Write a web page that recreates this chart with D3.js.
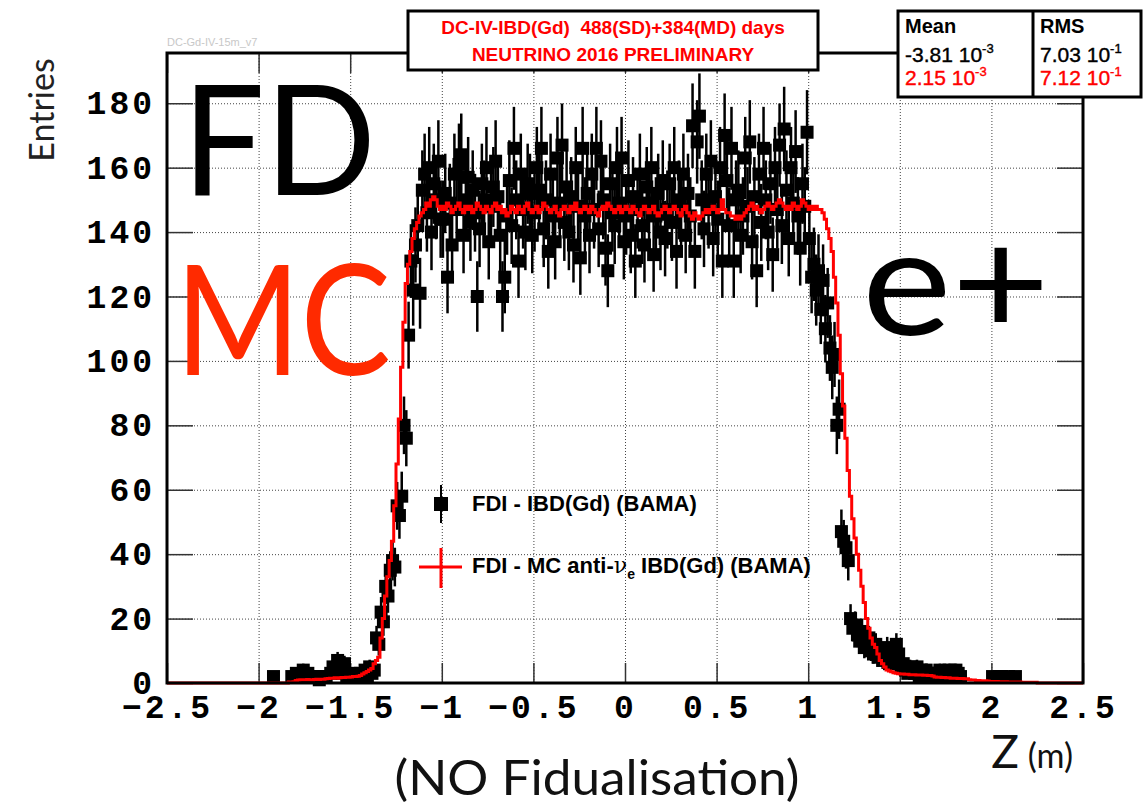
<!DOCTYPE html>
<html lang="en">

<head>
  <script src="https://d3js.org/d3.v7.min.js"></script>
  <meta charset="UTF-8">
  <title>FDI IBD(Gd) Z</title>
  <style>
    body {
      margin: 0;
      background: #fff;
    }

    .axis .domain {
      display: none;
    }

    .axis line {
      stroke: #333;
      stroke-width: 1.5;
    }

    .axis text {
      font-family: "Liberation Mono", "DejaVu Sans Mono", monospace;
      font-weight: bold;
      font-size: 33px;
      letter-spacing: 3px;
      fill: #000;
    }

    .gridlines .domain {
      display: none;
    }

    .gridlines line {
      stroke: #444;
      stroke-width: 1;
      stroke-dasharray: 1, 2;
    }
  </style>
</head>

<body>
  <svg id="plot" width="1146" height="810"></svg>
  <script>
    // histogram binning (Z in metres)
    const zMin = -2.5;
    const zMax = 2.5;
    const nBins = 400;

    // data: FDI - IBD(Gd) (BAMA), entries per bin (20 bins per row)
    const dataCounts = [
      0, 0, 0, 0, 0, 0, 0, 0, 0, 0, 0, 0, 0, 0, 0, 0, 0, 0, 0, 0,
      0, 0, 0, 0, 0, 0, 0, 0, 0, 0, 0, 0, 0, 0, 0, 0, 0, 0, 0, 0,
      0, 0, 0, 0, 0, 0, 2, 0, 0, 0, 0, 0, 0, 0, 2, 0, 3, 2, 0, 4,
      2, 3, 0, 2, 0, 2, 1, 2, 0, 2, 0, 3, 5, 4, 7, 5, 3, 6, 2, 0,
      3, 2, 0, 2, 3, 0, 4, 2, 5, 3, 4, 14, 12, 22, 19, 30, 27, 35, 38, 36,
      55, 52, 58, 80, 76, 108, 131, 122, 136, 142, 121, 153, 158, 146, 160, 140, 155, 150, 162, 144,
      144, 152, 126, 149, 136, 158, 147, 161, 164, 139, 150, 157, 143, 153, 146, 120, 141, 155, 150, 160,
      137, 148, 154, 162, 151, 139, 120, 126, 145, 156, 142, 166, 150, 131, 158, 147, 140, 155, 152, 139,
      146, 160, 153, 166, 141, 150, 134, 158, 145, 137, 163, 149, 167, 143, 154, 140, 151, 136, 160, 148,
      132, 166, 145, 152, 139, 158, 147, 166, 141, 162, 150, 135, 128, 155, 146, 142, 160, 149, 163, 137,
      145, 156, 139, 151, 131, 147, 158, 142, 136, 154, 149, 160, 133, 145, 152, 140, 156, 138, 147, 155,
      143, 160, 134, 150, 147, 158, 139, 152, 145, 173, 134, 168, 176, 150, 141, 158, 147, 162, 138, 151,
      144, 160, 131, 170, 156, 142, 166, 131, 150, 153, 139, 145, 163, 148, 168, 137, 151, 128, 158, 143,
      166, 150, 140, 155, 133, 160, 147, 167, 142, 172, 153, 138, 160, 149, 165, 145, 135, 155, 148, 171,
      138, 126, 130, 122, 128, 116, 125, 110, 118, 104, 98, 102, 80, 85, 47, 44, 42, 38, 20, 17,
      18, 15, 13, 16, 11, 12, 14, 10, 9, 12, 8, 10, 7, 9, 11, 6, 10, 8, 12, 9,
      5, 6, 4, 3, 5, 4, 3, 5, 2, 4, 3, 4, 2, 3, 3, 2, 3, 4, 3, 2,
      3, 4, 2, 3, 4, 3, 2, 0, 0, 0, 0, 0, 0, 0, 0, 0, 0, 0, 0, 0,
      2, 0, 0, 2, 2, 0, 0, 2, 0, 0, 2, 0, 0, 0, 0, 0, 0, 0, 0, 0,
      0, 0, 0, 0, 0, 0, 0, 0, 0, 0, 0, 0, 0, 0, 0, 0, 0, 0, 0, 0
    ];

    // MC anti-nu_e IBD(Gd) (BAMA), normalised (20 bins per row)
    const mcCounts = [
      0, 0, 0, 0, 0, 0, 0, 0, 0, 0, 0, 0, 0, 0, 0, 0, 0, 0, 0, 0,
      0, 0, 0, 0, 0, 0, 0, 0, 0, 0, 0, 0, 0, 0, 0, 0, 0, 0, 0, 0,
      0, 0, 0, 0, 0, 0, 0, 0, 0, 0, 0, 0, 0, 0.3, 0.3, 0.4, 0.8, 0.9, 1, 1,
      1, 1.1, 1, 1, 1.1, 1.2, 1.1, 1.2, 1.2, 1.3, 1.4, 1.5, 1.5, 1.6, 1.5, 1.6, 1.7, 1.7, 1.8, 1.8,
      1.9, 2, 2, 2.1, 2.3, 2.8, 3.2, 3.6, 4, 4.5, 6, 7, 8, 14, 20, 27, 33, 38, 44, 55,
      68, 82, 98, 112, 124, 130, 134, 138, 141, 143, 145, 146, 147, 149, 148, 150, 151, 150, 148, 147,
      148, 147, 149, 148, 146, 147, 148, 149, 147, 146, 148, 147, 148, 146, 147, 149, 148, 147, 146, 148,
      147, 146, 148, 149, 147, 148, 146, 147, 145, 146, 148, 147, 146, 148, 147, 146, 148, 149, 147, 146,
      147, 148, 146, 147, 149, 148, 147, 146, 147, 148, 146, 145, 147, 148, 147, 146, 148, 147, 149, 147,
      146, 147, 148, 147, 146, 148, 147, 146, 145, 147, 148, 147, 149, 148, 147, 146, 147, 148, 146, 147,
      148, 147, 146, 148, 147, 146, 145, 147, 148, 147, 146, 147, 148, 146, 145, 146, 147, 148, 147, 146,
      147, 148, 147, 146, 145, 147, 148, 146, 145, 144, 146, 145, 144, 145, 146, 147, 146, 147, 148, 147,
      146, 147, 150, 147, 146, 146, 145, 145, 144, 145, 144, 145, 146, 147, 148, 149, 147, 148, 147, 146,
      147, 148, 149, 148, 147, 148, 149, 150, 149, 148, 147, 148, 147, 149, 148, 147, 148, 150, 149, 148,
      147, 148, 147, 148, 147, 147, 146, 144, 141, 138, 134, 126, 118, 108, 96, 86, 76, 66, 58, 51,
      45, 40, 35, 30, 25, 20, 17, 14, 12, 11, 9, 7, 6, 5, 4, 3.7, 3.5, 3.2, 3, 2.9,
      2.8, 2.8, 2.7, 2.7, 2.6, 2.6, 2.6, 2.5, 2.5, 2.5, 2.4, 2.4, 2.3, 2.3, 2.2, 1.9, 1.8, 1.8, 1.7, 1.7,
      1.6, 1.6, 1.5, 1.5, 1.5, 1.4, 1.4, 1.4, 1.3, 1.3, 1.0, 0.9, 0.9, 0.8, 0.8, 0.7, 0.7, 0.7, 0.6, 0.5,
      0.5, 0.5, 0.5, 0.4, 0.4, 0.4, 0.4, 0.3, 0.3, 0.3, 0.3, 0.3, 0.3, 0.2, 0.2, 0.2, 0.2, 0.2, 0.2, 0.2,
      0, 0, 0, 0, 0, 0, 0, 0, 0, 0, 0, 0, 0, 0, 0, 0, 0, 0, 0, 0
    ];

    const xTicks = [-2.5, -2, -1.5, -1, -0.5, 0, 0.5, 1, 1.5, 2, 2.5];
    const xTickLabels = ["\u22122.5", "\u22122", "\u22121.5", "\u22121", "\u22120.5", "0", "0.5", "1", "1.5", "2", "2.5"];
    const yTicks = [0, 20, 40, 60, 80, 100, 120, 140, 160, 180];
    const yMax = 195.6;

    const statsHeader = ["Mean", "RMS"];
    const statsData = [["-3.81", "-3"], ["7.03", "-1"]];
    const statsMC = [["2.15", "-3"], ["7.12", "-1"]];

    const svg = d3.select("#plot");
    const width = +svg.attr("width");
    const height = +svg.attr("height");
    const margin = { top: 53, right: 63, bottom: 127, left: 167 };
    const chartWidth = width - margin.left - margin.right;
    const chartHeight = height - margin.top - margin.bottom;

    svg.append("rect").attr("width", width).attr("height", height).attr("fill", "#fff");

    const xScale = d3.scaleLinear().domain([zMin, zMax]).range([0, chartWidth]);
    const yScale = d3.scaleLinear().domain([0, yMax]).range([chartHeight, 0]);

    const chart = svg.append("g")
      .attr("transform", `translate(${margin.left},${margin.top})`);

    // gridlines
    chart.append("g")
      .attr("class", "gridlines")
      .attr("transform", `translate(0,${chartHeight})`)
      .call(d3.axisBottom(xScale).tickValues(xTicks).tickSize(-chartHeight).tickFormat(""))
      .selectAll("text").remove();
    chart.append("g")
      .attr("class", "gridlines")
      .call(d3.axisLeft(yScale).tickValues(yTicks).tickSize(-chartWidth).tickFormat(""))
      .selectAll("text").remove();

    // axes: ticks drawn inward
    chart.append("g")
      .attr("class", "axis")
      .attr("transform", `translate(0,${chartHeight})`)
      .call(d3.axisBottom(xScale).tickValues(xTicks).tickSizeInner(-20).tickSizeOuter(0).tickPadding(12)
        .tickFormat((d, i) => xTickLabels[i]));
    chart.append("g")
      .attr("class", "axis")
      .call(d3.axisTop(xScale).tickValues(xTicks).tickSizeInner(-20).tickSizeOuter(0).tickFormat(""))
      .selectAll("text").remove();
    chart.append("g")
      .attr("class", "axis")
      .call(d3.axisLeft(yScale).tickValues(yTicks).tickSizeInner(-26).tickSizeOuter(0).tickPadding(12));
    chart.append("g")
      .attr("class", "axis")
      .attr("transform", `translate(${chartWidth},0)`)
      .call(d3.axisRight(yScale).tickValues(yTicks).tickSizeInner(-26).tickSizeOuter(0).tickFormat(""))
      .selectAll("text").remove();

    // data points with sqrt(N) error bars
    const binWidth = (zMax - zMin) / nBins;
    const points = dataCounts
      .map((c, i) => ({ z: zMin + (i + 0.5) * binWidth, c: c }))
      .filter(d => d.c > 0);

    chart.append("g").selectAll("line")
      .data(points)
      .join("line")
      .attr("x1", d => xScale(d.z))
      .attr("x2", d => xScale(d.z))
      .attr("y1", d => yScale(d.c - Math.sqrt(d.c)))
      .attr("y2", d => yScale(Math.min(yMax, d.c + Math.sqrt(d.c))))
      .attr("stroke", "#000")
      .attr("stroke-width", 2.5);

    const msize = 13;
    chart.append("g").selectAll("rect")
      .data(points)
      .join("rect")
      .attr("x", d => xScale(d.z) - msize / 2)
      .attr("y", d => yScale(d.c) - msize / 2)
      .attr("width", msize)
      .attr("height", msize)
      .attr("fill", "#000");

    // MC step histogram
    const steps = mcCounts.map((v, i) => ({ z: zMin + i * binWidth, v: v }));
    steps.push({ z: zMax, v: mcCounts[nBins - 1] });
    const lineGen = d3.line()
      .curve(d3.curveStepAfter)
      .x(d => xScale(d.z))
      .y(d => yScale(d.v));
    chart.append("path")
      .attr("d", lineGen(steps))
      .attr("fill", "none")
      .attr("stroke", "#ff0000")
      .attr("stroke-width", 3);

    // frame
    chart.append("rect")
      .attr("width", chartWidth)
      .attr("height", chartHeight)
      .attr("fill", "none")
      .attr("stroke", "#000")
      .attr("stroke-width", 3);

    // axis titles
    svg.append("text")
      .attr("transform", "translate(54,110) rotate(-90)")
      .attr("text-anchor", "middle")
      .style("font-family", "Lato, sans-serif")
      .style("font-size", "34px")
      .attr("fill", "#222")
      .text("Entries");

    const zTitle = svg.append("text")
      .attr("x", 1073).attr("y", 768)
      .attr("text-anchor", "end")
      .style("font-family", "Lato, sans-serif")
      .attr("fill", "#111");
    zTitle.append("tspan").style("font-size", "46px").text("Z");
    zTitle.append("tspan").style("font-size", "34px").text(" (m)");

    svg.append("text")
      .attr("x", 597).attr("y", 795)
      .attr("text-anchor", "middle")
      .style("font-family", "Lato, sans-serif")
      .style("font-size", "48px")
      .attr("textLength", 405)
      .attr("lengthAdjust", "spacingAndGlyphs")
      .attr("fill", "#111")
      .text("(NO Fidualisation)");

    // large annotations
    svg.append("text")
      .attr("x", 182).attr("y", 195)
      .style("font-family", "Lato, sans-serif")
      .style("font-size", "153px")
      .attr("textLength", 194)
      .attr("lengthAdjust", "spacingAndGlyphs")
      .attr("fill", "#000")
      .text("FD");
    svg.append("text")
      .attr("x", 175).attr("y", 375)
      .style("font-family", "Lato, sans-serif")
      .style("font-size", "153px")
      .attr("textLength", 216)
      .attr("lengthAdjust", "spacingAndGlyphs")
      .attr("fill", "#ff2a00")
      .text("MC");
    svg.append("text")
      .attr("x", 862).attr("y", 335)
      .style("font-family", "Lato, sans-serif")
      .style("font-size", "150px")
      .attr("textLength", 188)
      .attr("lengthAdjust", "spacingAndGlyphs")
      .attr("fill", "#000")
      .text("e+");

    // version tag
    svg.append("text")
      .attr("x", 167).attr("y", 46)
      .style("font-family", "Liberation Sans, Arial, sans-serif")
      .style("font-size", "11px")
      .attr("fill", "#c8c8c8")
      .text("DC-Gd-IV-15m_v7");

    // title box
    const tbox = svg.append("g");
    tbox.append("rect")
      .attr("x", 408).attr("y", 11).attr("width", 410).attr("height", 59)
      .attr("fill", "#fff").attr("stroke", "#000").attr("stroke-width", 3);
    tbox.append("text")
      .attr("x", 613).attr("y", 34)
      .attr("text-anchor", "middle")
      .style("font-family", "Liberation Sans, Arial, sans-serif")
      .style("font-weight", "bold")
      .style("font-size", "19px")
      .style("white-space", "pre")
      .attr("fill", "#ff0000")
      .text("DC-IV-IBD(Gd)\u00a0\u00a0488(SD)+384(MD) days");
    tbox.append("text")
      .attr("x", 613).attr("y", 61)
      .attr("text-anchor", "middle")
      .style("font-family", "Liberation Sans, Arial, sans-serif")
      .style("font-weight", "bold")
      .style("font-size", "19px")
      .attr("fill", "#ff0000")
      .text("NEUTRINO 2016 PRELIMINARY");

    // stats box
    const sbox = svg.append("g")
      .style("font-family", "Liberation Sans, Arial, sans-serif");
    sbox.append("rect")
      .attr("x", 898).attr("y", 11).attr("width", 243).attr("height", 86)
      .attr("fill", "#fff").attr("stroke", "#000").attr("stroke-width", 3);
    sbox.append("line")
      .attr("x1", 1033).attr("x2", 1033).attr("y1", 11).attr("y2", 97)
      .attr("stroke", "#000").attr("stroke-width", 3);
    const colX = [905, 1040];
    statsHeader.forEach((h, i) => {
      sbox.append("text")
        .attr("x", colX[i]).attr("y", 33)
        .style("font-size", "20px").style("font-weight", "bold")
        .text(h);
    });
    const valueRow = (vals, y, color) => {
      vals.forEach((v, i) => {
        const t = sbox.append("text")
          .attr("x", colX[i]).attr("y", y)
          .style("font-size", "21px")
          .style("stroke", color).style("stroke-width", 0.4)
          .attr("fill", color);
        t.append("tspan").text(v[0] + " 10");
        t.append("tspan").attr("dy", -9).style("font-size", "13px").text(v[1]);
      });
    };
    valueRow(statsData, 62, "#000");
    valueRow(statsMC, 85, "#ff0000");

    // legend
    const legend = svg.append("g");
    legend.append("line")
      .attr("x1", 441).attr("x2", 441).attr("y1", 485).attr("y2", 523)
      .attr("stroke", "#000").attr("stroke-width", 2);
    legend.append("rect")
      .attr("x", 441 - 7).attr("y", 504 - 7).attr("width", 14).attr("height", 14)
      .attr("fill", "#000");
    legend.append("text")
      .attr("x", 472).attr("y", 511)
      .style("font-family", "Liberation Sans, Arial, sans-serif")
      .style("font-weight", "bold")
      .style("font-size", "22px")
      .text("FDI - IBD(Gd) (BAMA)");

    legend.append("line")
      .attr("x1", 419).attr("x2", 462).attr("y1", 567).attr("y2", 567)
      .attr("stroke", "#ff0000").attr("stroke-width", 3);
    legend.append("line")
      .attr("x1", 441).attr("x2", 441).attr("y1", 548).attr("y2", 588)
      .attr("stroke", "#ff0000").attr("stroke-width", 3);
    const mcLabel = legend.append("text")
      .attr("x", 472).attr("y", 573)
      .style("font-family", "Liberation Sans, Arial, sans-serif")
      .style("font-weight", "bold")
      .style("font-size", "22px");
    mcLabel.append("tspan").text("FDI - MC anti-");
    mcLabel.append("tspan").style("font-weight", "normal").style("font-family", "DejaVu Serif, serif").text("\u03bd");
    mcLabel.append("tspan").attr("dy", 6).style("font-size", "14px").text("e");
    mcLabel.append("tspan").attr("dy", -6).text(" IBD(Gd) (BAMA)");
  </script>
</body>

</html>
